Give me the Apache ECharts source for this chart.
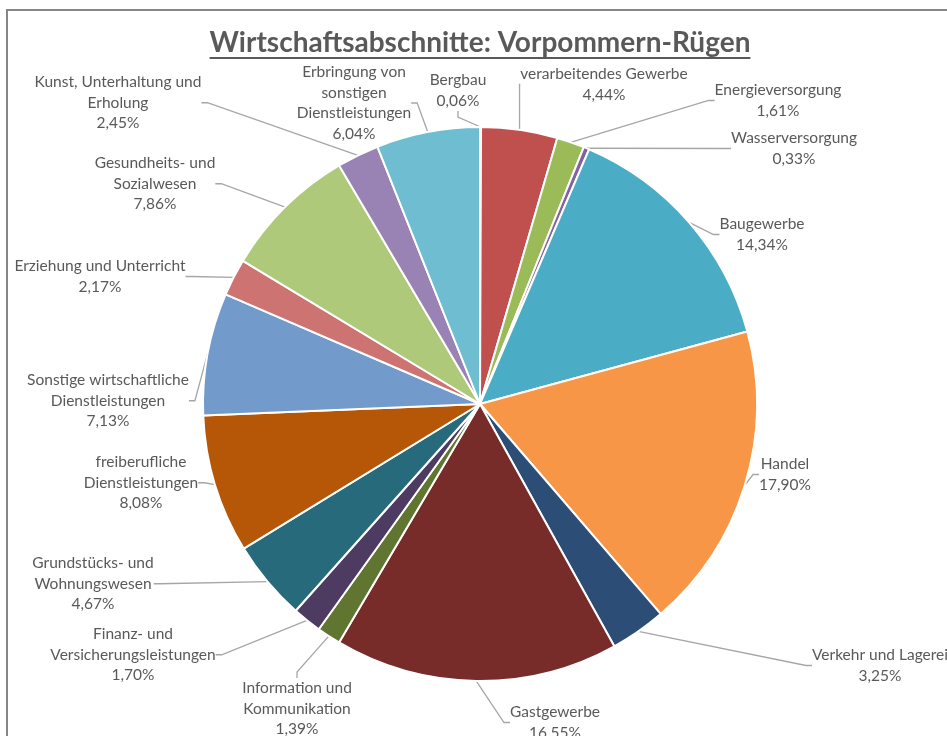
<!DOCTYPE html>
<html>
<head>
<meta charset="utf-8">
<title>Wirtschaftsabschnitte: Vorpommern-Rügen</title>
<script src="https://cdn.jsdelivr.net/npm/echarts@6/dist/echarts.min.js"></script>
<style>
  html, body { margin: 0; padding: 0; background: #fff; }
  #chart { width: 947px; height: 736px; }
</style>
</head>
<body>
<div id="chart"></div>
<script>
// Datenreihen
var sectors = [
  'Bergbau', 'verarbeitendes Gewerbe', 'Energieversorgung', 'Wasserversorgung',
  'Baugewerbe', 'Handel', 'Verkehr und Lagerei', 'Gastgewerbe',
  'Information und Kommunikation', 'Finanz- und Versicherungsleistungen',
  'Grundstücks- und Wohnungswesen', 'freiberufliche Dienstleistungen',
  'Sonstige wirtschaftliche Dienstleistungen', 'Erziehung und Unterricht',
  'Gesundheits- und Sozialwesen', 'Kunst, Unterhaltung und Erholung',
  'Erbringung von sonstigen Dienstleistungen'
]
var shares = [0.06, 4.44, 1.61, 0.33, 14.34, 17.90, 3.25, 16.55, 1.39, 1.70, 4.67, 8.08, 7.13, 2.17, 7.86, 2.45, 6.04]
// Beschriftungen mit Zeilenumbruch wie im Original
var labelTexts = [
  'Bergbau', 'verarbeitendes Gewerbe', 'Energieversorgung', 'Wasserversorgung',
  'Baugewerbe', 'Handel', 'Verkehr und Lagerei', 'Gastgewerbe',
  'Information und\nKommunikation', 'Finanz- und\nVersicherungsleistungen',
  'Grundstücks- und\nWohnungswesen', 'freiberufliche\nDienstleistungen',
  'Sonstige wirtschaftliche\nDienstleistungen', 'Erziehung und Unterricht',
  'Gesundheits- und\nSozialwesen', 'Kunst, Unterhaltung und\nErholung',
  'Erbringung von\nsonstigen\nDienstleistungen'
]

var colors = [
  '#4F81BD', '#C0504D', '#9BBB59', '#8064A2', '#4BACC6', '#F79646',
  '#2C4D75', '#772C2A', '#5F7530', '#4D3B62', '#276A7C', '#B65708',
  '#729ACA', '#CD7371', '#AFC97A', '#9983B5', '#6FBDD1'
]
// Lage der Beschriftungen (Mitte x, Oberkante y)
var labelSpots = [
  [458, 70], [604, 64], [778, 80], [794, 128], [762, 214], [785, 454],
  [880, 645], [555, 702], [297, 678], [133, 624], [93, 553], [141, 452],
  [108, 370], [100, 256], [155, 153], [118, 72], [354, 62]
]

var titleText = 'Wirtschaftsabschnitte: Vorpommern-Rügen'
var titleFont = 'bold 28px Lato'

var chart = echarts.init(document.getElementById('chart'))

var ctx = document.createElement('canvas').getContext('2d')
ctx.font = titleFont
var titleWidth = ctx.measureText(titleText).width

var pieData = sectors.map(function(name, i) {
  return { name: name, value: shares[i], itemStyle: { color: colors[i] } }
})

chart.setOption({
  animation: false,
  graphic: [
    {
      type: 'rect',
      z: -10,
      shape: { x: 7, y: 10, width: 1000, height: 1000 },
      style: { fill: 'none', stroke: '#868686', lineWidth: 2 }
    },
    {
      type: 'text',
      x: 480,
      y: 43,
      style: {
        text: titleText,
        font: titleFont,
        fill: '#595959',
        textAlign: 'center',
        textVerticalAlign: 'middle'
      }
    },
    {
      type: 'line',
      shape: { x1: 480 - titleWidth / 2, y1: 58, x2: 480 + titleWidth / 2, y2: 58 },
      style: { stroke: '#595959', lineWidth: 2 }
    }
  ],
  series: [{
    name: 'Wirtschaftsabschnitte',
    type: 'pie',
    center: [480, 404],
    radius: 277,
    startAngle: 90,
    clockwise: true,
    avoidLabelOverlap: false,
    itemStyle: {
      borderColor: '#fff',
      borderWidth: 2
    },
    label: {
      show: true,
      position: 'outer',
      alignTo: 'none',
      fontFamily: 'Lato',
      fontSize: 15.5,
      lineHeight: 20.5,
      color: '#595959',
      align: 'center',
      formatter: function(p) {
        return labelTexts[p.dataIndex] + '\n' + p.value.toFixed(2).replace('.', ',') + '%'
      }
    },
    labelLine: {
      show: true,
      length: 20,
      length2: 6,
      lineStyle: { color: '#A6A6A6', width: 1.3 }
    },
    labelLayout: function(p) {
      var s = labelSpots[p.dataIndex]
      return { x: s[0], y: s[1], align: 'center', verticalAlign: 'top' }
    },
    emphasis: { disabled: true },
    data: pieData
  }]
})
</script>
</body>
</html>
